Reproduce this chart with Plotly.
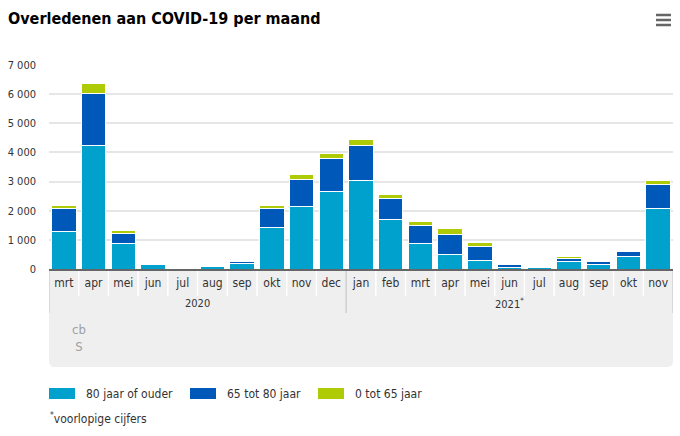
import plotly.graph_objects as go

months = ["mrt", "apr", "mei", "jun", "jul", "aug", "sep", "okt", "nov", "dec",
          "jan", "feb", "mrt", "apr", "mei", "jun", "jul", "aug", "sep", "okt", "nov"]
years = ["2020"] * 10 + ["2021<sup>*</sup>"] * 11

age_80_plus = [1300, 4250, 890, 150, 15, 80, 195, 1430, 2160, 2670,
               3050, 1710, 860, 490, 300, 60, 40, 250, 150, 430, 2060]
age_65_80 = [760, 1780, 330, 25, 5, 45, 60, 640, 910, 1120,
             1200, 700, 640, 700, 480, 110, 15, 120, 120, 160, 830]
age_0_65 = [130, 340, 100, 8, 2, 15, 15, 100, 170, 190,
            200, 160, 120, 200, 140, 10, 5, 50, 15, 60, 160]

series = [
    ("80 jaar of ouder", age_80_plus, "#00a1cd"),
    ("65 tot 80 jaar", age_65_80, "#0058b8"),
    ("0 tot 65 jaar", age_0_65, "#afcb05"),
]

FONT = "DejaVu Sans Condensed"
x = list(range(len(months)))

fig = go.Figure()
for name, vals, col in series:
    fig.add_trace(go.Bar(x=x, y=vals, name=name, marker_color=col,
                         marker_line_color="white", marker_line_width=1,
                         width=0.82, showlegend=False))

W, H = 680, 436
L, R, T, B = 49, 7, 65, 167
pw, ph = W - L - R, H - T - B
def px(xp):
    return (xp - L) / pw
def py(yp):
    return (H - B - yp) / ph

shapes = []
# grey category box with rounded bottom corners
rx, ry = 6 / pw, 6 / ph
y0, y1 = py(270), py(367)
shapes.append(dict(type="path", xref="paper", yref="paper", layer="below",
                   path=f"M 0,{y0} L 1,{y0} L 1,{y1+ry} Q 1,{y1} {1-rx},{y1} "
                        f"L {rx},{y1} Q 0,{y1} 0,{y1+ry} Z",
                   fillcolor="#efefef", line=dict(width=0)))
# month separators
for i in range(len(months) + 1):
    xv = i - 0.5
    is_year_break = i in (0, len(months)) or (0 < i < len(months) and years[i] != years[i - 1])
    shapes.append(dict(type="line", xref="x", yref="paper", x0=xv, x1=xv,
                       y0=py(271), y1=py(313 if is_year_break else 296),
                       line=dict(color="#d0d0d0" if is_year_break else "#ffffff", width=1.5)))
# hamburger icon
for yy in (15, 20, 25):
    shapes.append(dict(type="line", xref="paper", yref="paper", x0=px(656), x1=px(671),
                       y0=py(yy), y1=py(yy), line=dict(color="#666666", width=2.5)))

annotations = []
# year labels
groups = []
for i, yv in enumerate(years):
    if not groups or groups[-1][0] != yv:
        groups.append([yv, i, i])
    else:
        groups[-1][2] = i
for yv, a, b in groups:
    annotations.append(dict(x=(a + b) / 2, y=py(303), xref="x", yref="paper",
                            text=yv, showarrow=False, yanchor="middle",
                            font=dict(family=FONT, size=11, color="#333333")))

# manual legend
leg_pos = [49, 190, 318]
for (name, vals, col), lx in zip(series, leg_pos):
    shapes.append(dict(type="rect", xref="paper", yref="paper",
                       x0=px(lx), x1=px(lx + 26), y0=py(388), y1=py(399),
                       fillcolor=col, line=dict(width=0)))
    annotations.append(dict(x=px(lx + 35), y=py(393.5), xref="paper", yref="paper",
                            text=name, showarrow=False, xanchor="left", yanchor="middle",
                            font=dict(family=FONT, size=12, color="#333333")))
annotations.append(dict(x=px(48), y=py(418), xref="paper", yref="paper",
                        text="<sup>*</sup>voorlopige cijfers", showarrow=False,
                        xanchor="left", yanchor="middle",
                        font=dict(family=FONT, size=12, color="#333333")))
# cbs logo (text approximation)
annotations.append(dict(x=px(70), y=py(338), xref="paper", yref="paper",
                        text="cb<br>S", showarrow=False, yanchor="middle",
                        font=dict(family=FONT, size=13, color="#a0a0a0")))

fig.update_layout(
    width=W, height=H,
    margin=dict(l=L, r=R, t=T, b=B),
    barmode="stack",
    bargap=0.18,
    plot_bgcolor="white", paper_bgcolor="white",
    separators=", ",
    title=dict(text="<b>Overledenen aan COVID-19 per maand</b>", x=8 / W, xanchor="left",
               y=1 - 18 / H, yanchor="middle",
               font=dict(family=FONT, size=16, color="#000000")),
    shapes=shapes,
    annotations=annotations,
    xaxis=dict(tickmode="array", tickvals=x, ticktext=months, range=[-0.5, len(months) - 0.5],
               showline=True, linecolor="#666666", linewidth=2, showgrid=False,
               ticks="", ticklabelstandoff=2, zeroline=False,
               tickfont=dict(family=FONT, size=12, color="#333333")),
    yaxis=dict(range=[0, 7000], tickvals=[0, 1000, 2000, 3000, 4000, 5000, 6000, 7000],
               tickformat=",d", showgrid=True, gridcolor="#e6e6e6", gridwidth=2,
               zeroline=False, ticks="", ticklabelstandoff=12,
               tickfont=dict(family=FONT, size=11, color="#333333")),
)

fig.write_html("out.html")
